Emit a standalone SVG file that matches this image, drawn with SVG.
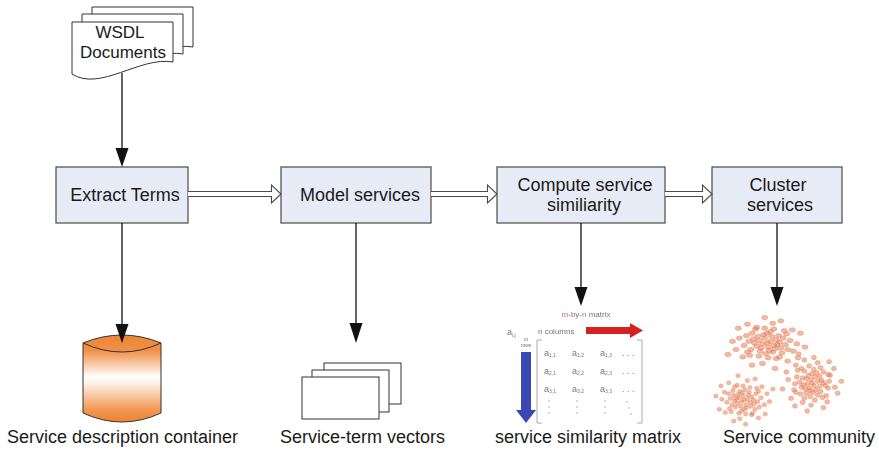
<svg xmlns="http://www.w3.org/2000/svg" width="879" height="450" viewBox="0 0 879 450">
  <style>
    .box { fill: #e7ebf5; stroke: #4a4a4a; stroke-width: 1.2; }
    .lbl { font-family: "Liberation Sans", Arial, sans-serif; font-size: 18px; fill: #1a1a1a; }
    .doc { font-family: "Liberation Sans", Arial, sans-serif; font-size: 17px; fill: #1a1a1a; text-anchor: middle; }
    .mid { text-anchor: middle; }
    .wire { stroke: #111; stroke-width: 1.3; fill: none; }
    .head { fill: #111; }
    .hollow { fill: #fff; stroke: #4a4a4a; stroke-width: 1.1; }
    .page { fill: #fff; stroke: #333; stroke-width: 1; }
    .dot { fill: #e8663a; fill-opacity: 0.45; stroke: #e0906a; stroke-opacity: 0.7; stroke-width: 0.8; }
    .mx { font-family: "Liberation Sans", Arial, sans-serif; fill: #777; }
  </style>
  <defs>
    <linearGradient id="can" x1="0" y1="335" x2="0" y2="422" gradientUnits="userSpaceOnUse">
      <stop offset="0" stop-color="#ee8431"/>
      <stop offset="0.18" stop-color="#f09049"/>
      <stop offset="0.48" stop-color="#ffffff"/>
      <stop offset="0.56" stop-color="#fdf0e5"/>
      <stop offset="0.85" stop-color="#f29a55"/>
      <stop offset="1" stop-color="#ed822f"/>
    </linearGradient>
    <filter id="soft" x="-5%" y="-5%" width="110%" height="110%">
      <feGaussianBlur stdDeviation="0.55"/>
    </filter>
    <g id="blob">
      <circle class="dot" cx="0" cy="0" r="2.6"/><circle class="dot" cx="3" cy="-2" r="2.6"/>
      <circle class="dot" cx="-4" cy="1" r="2.6"/><circle class="dot" cx="6" cy="3" r="2.6"/>
      <circle class="dot" cx="-2" cy="-6" r="2.6"/><circle class="dot" cx="1" cy="5" r="2.6"/>
      <circle class="dot" cx="-7" cy="-3" r="2.6"/><circle class="dot" cx="8" cy="-4" r="2.6"/>
      <circle class="dot" cx="-5" cy="6" r="2.6"/><circle class="dot" cx="4" cy="-8" r="2.6"/>
      <circle class="dot" cx="9" cy="2" r="2.6"/><circle class="dot" cx="-9" cy="4" r="2.6"/>
      <circle class="dot" cx="2" cy="9" r="2.6"/><circle class="dot" cx="-3" cy="-10" r="2.6"/>
      <circle class="dot" cx="7" cy="7" r="2.6"/><circle class="dot" cx="-8" cy="-8" r="2.6"/>
      <circle class="dot" cx="11" cy="-1" r="2.6"/><circle class="dot" cx="-11" cy="0" r="2.6"/>
      <circle class="dot" cx="0" cy="-12" r="2.6"/><circle class="dot" cx="5" cy="11" r="2.6"/>
      <circle class="dot" cx="-6" cy="10" r="2.6"/><circle class="dot" cx="12" cy="6" r="2.6"/>
      <circle class="dot" cx="-12" cy="-5" r="2.6"/><circle class="dot" cx="10" cy="-9" r="2.6"/>
      <circle class="dot" cx="-1" cy="13" r="2.6"/><circle class="dot" cx="3" cy="-14" r="2.6"/>
      <circle class="dot" cx="14" cy="-6" r="2.6"/><circle class="dot" cx="-14" cy="8" r="2.6"/>
      <circle class="dot" cx="16" cy="2" r="2.6"/><circle class="dot" cx="-16" cy="-2" r="2.6"/>
      <circle class="dot" cx="13" cy="12" r="2.6"/><circle class="dot" cx="-13" cy="-12" r="2.6"/>
      <circle class="dot" cx="6" cy="-17" r="2.6"/><circle class="dot" cx="-7" cy="16" r="2.6"/>
      <circle class="dot" cx="17" cy="-11" r="2.6"/><circle class="dot" cx="-17" cy="11" r="2.6"/>
      <circle class="dot" cx="18" cy="8" r="2.6"/><circle class="dot" cx="-18" cy="-9" r="2.6"/>
      <circle class="dot" cx="1" cy="18" r="2.6"/><circle class="dot" cx="-2" cy="-18" r="2.6"/>
      <circle class="dot" cx="11" cy="17" r="2.6"/><circle class="dot" cx="-10" cy="-17" r="2.6"/>
      <circle class="dot" cx="20" cy="-3" r="2.6"/><circle class="dot" cx="-20" cy="3" r="2.6"/>
      <circle class="dot" cx="15" cy="-15" r="2.6"/><circle class="dot" cx="-15" cy="15" r="2.6"/>
      <circle class="dot" cx="8" cy="19" r="2.6"/><circle class="dot" cx="-9" cy="-19" r="2.6"/>
      <circle class="dot" cx="23" cy="10" r="2.6"/><circle class="dot" cx="-24" cy="-6" r="2.6"/>
      <circle class="dot" cx="22" cy="-16" r="2.6"/><circle class="dot" cx="-21" cy="17" r="2.6"/>
      <circle class="dot" cx="5" cy="-24" r="2.6"/><circle class="dot" cx="-4" cy="25" r="2.6"/>
      <circle class="dot" cx="26" cy="1" r="2.6"/><circle class="dot" cx="-27" cy="8" r="2.6"/>
      <circle class="dot" cx="18" cy="22" r="2.6"/><circle class="dot" cx="-17" cy="-23" r="2.6"/>
      <circle class="dot" cx="29" cy="-12" r="2.6"/><circle class="dot" cx="-30" cy="-2" r="2.6"/>
      <circle class="dot" cx="12" cy="-27" r="2.6"/><circle class="dot" cx="-13" cy="27" r="2.6"/>
      <circle class="dot" cx="27" cy="18" r="2.6"/><circle class="dot" cx="-25" cy="-18" r="2.6"/>
      <circle class="dot" cx="33" cy="5" r="2.6"/><circle class="dot" cx="-34" cy="14" r="2.6"/>
      <circle class="dot" cx="7" cy="31" r="2.6"/><circle class="dot" cx="-2" cy="-31" r="2.6"/>
    </g>
  </defs>

  <rect width="879" height="450" fill="#fff"/>

  <!-- input documents -->
  <g id="wsdl">
    <path class="page" d="M92,7 H193 V47 C160,41 120,77 92,59 Z"/>
    <path class="page" d="M82,14 H183 V54 C150,48 110,84 82,66 Z"/>
    <path class="page" d="M72,22 H173 V62 C140,56 100,92 72,74 Z"/>
    <text class="doc" x="120" y="38">WSDL</text>
    <text class="doc" x="123" y="58">Documents</text>
  </g>

  <!-- processing steps -->
  <g id="extract">
    <rect class="box" x="56" y="167" width="132" height="56"/>
    <text class="lbl mid" x="125" y="201">Extract Terms</text>
  </g>
  <g id="model">
    <rect class="box" x="281" y="167" width="150" height="56"/>
    <text class="lbl mid" x="360" y="201">Model services</text>
  </g>
  <g id="compute">
    <rect class="box" x="497" y="167" width="168" height="56"/>
    <text class="lbl mid" x="585" y="191">Compute service</text>
    <text class="lbl mid" x="584" y="211">similiarity</text>
  </g>
  <g id="cluster">
    <rect class="box" x="712" y="167" width="130" height="56"/>
    <text class="lbl mid" x="778" y="191">Cluster</text>
    <text class="lbl mid" x="780" y="211">services</text>
  </g>

  <!-- outputs -->
  <g id="container">
    <path d="M83,343 V413 Q122,431 161,413 V343 Q122,327 83,343 Z" fill="url(#can)" stroke="#333" stroke-width="1"/>
    <path d="M83,343 Q122,361 161,343" fill="none" stroke="#333" stroke-width="1"/>
    <text class="lbl" x="7" y="443">Service description container</text>
  </g>
  <g id="vectors">
    <rect class="page" x="324" y="363" width="77" height="41"/>
    <rect class="page" x="312" y="370" width="77" height="42"/>
    <rect class="page" x="302" y="377" width="77" height="42"/>
    <text class="lbl" x="280" y="443">Service-term vectors</text>
  </g>
  <g id="matrix">
    <g filter="url(#soft)">
      <text class="mx" x="586" y="317" font-size="8" text-anchor="middle"><tspan fill="#c86a90">m</tspan>-by-<tspan fill="#c86a90">n</tspan> matrix</text>
      <text class="mx" x="507" y="335" font-size="9" fill="#555">a<tspan font-size="5" dy="2">i,j</tspan></text>
      <text class="mx" x="538" y="334" font-size="8" fill="#e07a98">n columns</text>
      <path d="M586,327 H630 V323 L643,330.5 L630,338 V334 H586 Z" fill="#d42121"/>
      <text class="mx" x="526" y="341" font-size="5" fill="#5a66c0" text-anchor="middle">m</text>
      <text class="mx" x="526" y="347" font-size="5" fill="#5a66c0" text-anchor="middle">rows</text>
      <path d="M521,352 H531 V410 H536 L526,423 L516,410 H521 Z" fill="#3b47b3"/>
      <path d="M542,340 H537 V423 H542 M637,340 H642 V423 H637" fill="none" stroke="#aaa" stroke-width="1"/>
      <g font-size="9" class="mx">
        <text x="544" y="356">a<tspan font-size="5" dy="1">1,1</tspan></text>
        <text x="572" y="356">a<tspan font-size="5" dy="1">1,2</tspan></text>
        <text x="600" y="356">a<tspan font-size="5" dy="1">1,3</tspan></text>
        <text x="544" y="374">a<tspan font-size="5" dy="1">2,1</tspan></text>
        <text x="572" y="374">a<tspan font-size="5" dy="1">2,2</tspan></text>
        <text x="600" y="374">a<tspan font-size="5" dy="1">2,3</tspan></text>
        <text x="544" y="392">a<tspan font-size="5" dy="1">3,1</tspan></text>
        <text x="572" y="392">a<tspan font-size="5" dy="1">3,2</tspan></text>
        <text x="600" y="392">a<tspan font-size="5" dy="1">3,3</tspan></text>
        <text x="622" y="356">. . .</text>
        <text x="622" y="374">. . .</text>
        <text x="622" y="392">. . .</text>
      </g>
      <g fill="#999">
        <circle cx="549" cy="401" r="0.7"/><circle cx="549" cy="407" r="0.7"/><circle cx="549" cy="413" r="0.7"/>
        <circle cx="577" cy="401" r="0.7"/><circle cx="577" cy="407" r="0.7"/><circle cx="577" cy="413" r="0.7"/>
        <circle cx="605" cy="401" r="0.7"/><circle cx="605" cy="407" r="0.7"/><circle cx="605" cy="413" r="0.7"/>
        <circle cx="627" cy="402" r="0.7"/><circle cx="629" cy="408" r="0.7"/><circle cx="631" cy="414" r="0.7"/>
      </g>
    </g>
    <text class="lbl" x="495" y="443">service similarity matrix</text>
  </g>
  <g id="community">
    <use href="#blob" transform="translate(767,343) scale(1.15,0.82)"/>
    <use href="#blob" transform="translate(812,383) rotate(90) scale(0.85,0.95)"/>
    <use href="#blob" transform="translate(744,400) rotate(180) scale(0.85,0.78)"/>
    <text class="lbl" x="723" y="443">Service community</text>
  </g>

  <!-- connectors -->
  <g id="connectors">
    <path class="wire" d="M122,73 V150"/>
    <path class="head" d="M115.5,148 H128.5 L122,167 Z"/>
    <path class="wire" d="M122,223 V326"/>
    <path class="head" d="M115.5,324 H128.5 L122,343 Z"/>
    <path class="wire" d="M356,223 V325"/>
    <path class="head" d="M349.5,323 H362.5 L356,343 Z"/>
    <path class="wire" d="M581,223 V289"/>
    <path class="head" d="M574.5,287 H587.5 L581,306 Z"/>
    <path class="wire" d="M777,223 V289"/>
    <path class="head" d="M770.5,287 H783.5 L777,306 Z"/>
    <path class="hollow" d="M188,191.5 H271.5 V185 L281,194 L271.5,203 V196.5 H188"/>
    <path class="hollow" d="M431,191.5 H487.5 V185 L497,194 L487.5,203 V196.5 H431"/>
    <path class="hollow" d="M665,191.5 H702.5 V185 L712,194 L702.5,203 V196.5 H665"/>
  </g>
</svg>
